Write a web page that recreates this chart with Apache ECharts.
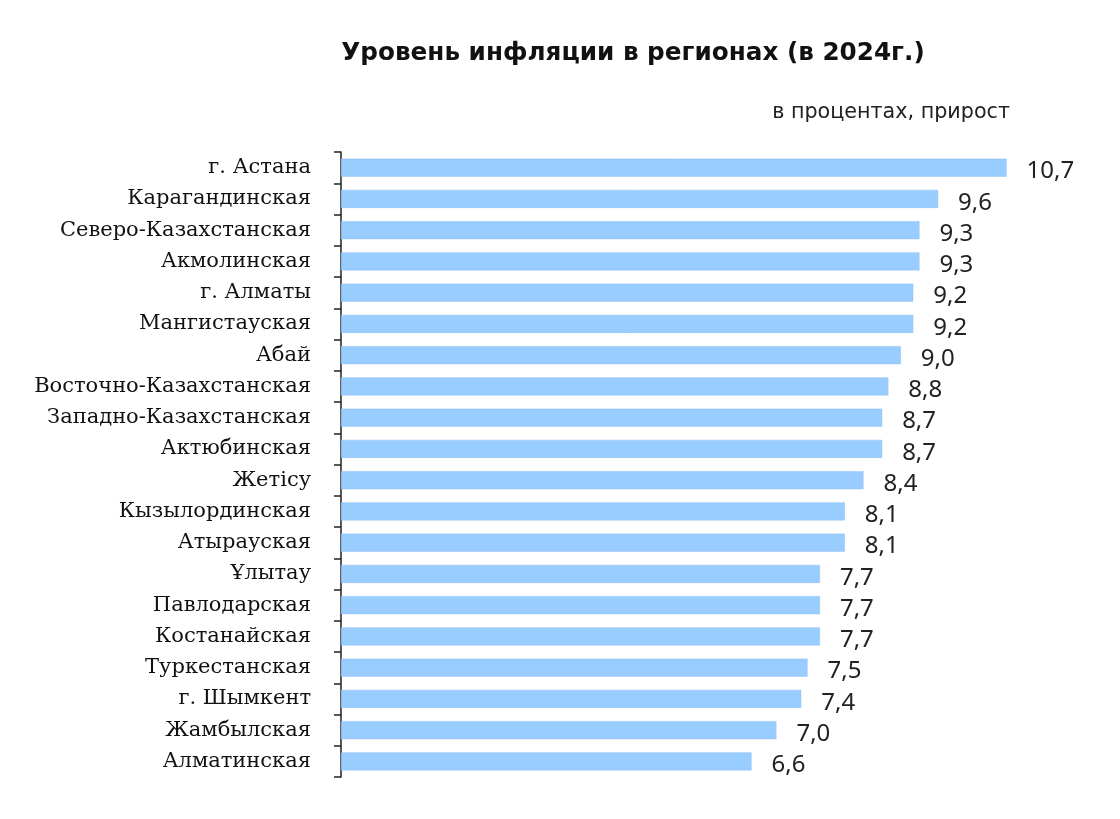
<!DOCTYPE html>
<html><head><meta charset="utf-8">
<script src="https://cdn.jsdelivr.net/npm/echarts@6/dist/echarts.min.js"></script>
<style>html,body{margin:0;padding:0;background:#fff}#c{width:1120px;height:819px}</style>
</head><body><div id="c"></div>
<script>
const titleText = 'Уровень инфляции в регионах (в 2024г.)';
const subtitleText = 'в процентах, прирост';
const regions = ['г. Астана','Карагандинская','Северо-Казахстанская','Акмолинская','г. Алматы','Мангистауская','Абай','Восточно-Казахстанская','Западно-Казахстанская','Актюбинская','Жетісу','Кызылординская','Атырауская','Ұлытау','Павлодарская','Костанайская','Туркестанская','г. Шымкент','Жамбылская','Алматинская'];
const inflation = [10.7,9.6,9.3,9.3,9.2,9.2,9.0,8.8,8.7,8.7,8.4,8.1,8.1,7.7,7.7,7.7,7.5,7.4,7.0,6.6];

const chart = echarts.init(document.getElementById('c'));
chart.setOption({
  animation:false,
  backgroundColor:'#fff',
  title:[
    {text:titleText,left:633,textAlign:'center',top:41,padding:0,textStyle:{fontFamily:'DejaVu Sans',fontWeight:'bold',fontSize:24.7,color:'#111'}},
    {text:subtitleText,left:1010,textAlign:'right',top:102,padding:0,textStyle:{fontFamily:'DejaVu Sans',fontWeight:'normal',fontSize:20.7,color:'#222'}}
  ],
  grid:{left:341,top:152,height:625,width:746.4},
  xAxis:{type:'value',min:0,max:12,show:false},
  yAxis:{type:'category',inverse:true,data:regions,
    axisLine:{show:true,lineStyle:{color:'#222',width:1.5}},
    axisTick:{show:true,inside:false,length:7,lineStyle:{color:'#222',width:1.5}},
    axisLabel:{margin:30,fontFamily:'DejaVu Serif',fontSize:21,color:'#111'}
  },
  series:[{type:'bar',data:inflation,barWidth:18,
    itemStyle:{color:'#99CCFF',borderColor:'#8FBFF0',borderWidth:0.5},
    label:{show:true,position:'right',distance:20,offset:[0,4],fontFamily:'Noto Sans',fontSize:24,color:'#222',
      formatter:p=>p.value.toFixed(1).replace('.',',')}
  }]
});
</script></body></html>
